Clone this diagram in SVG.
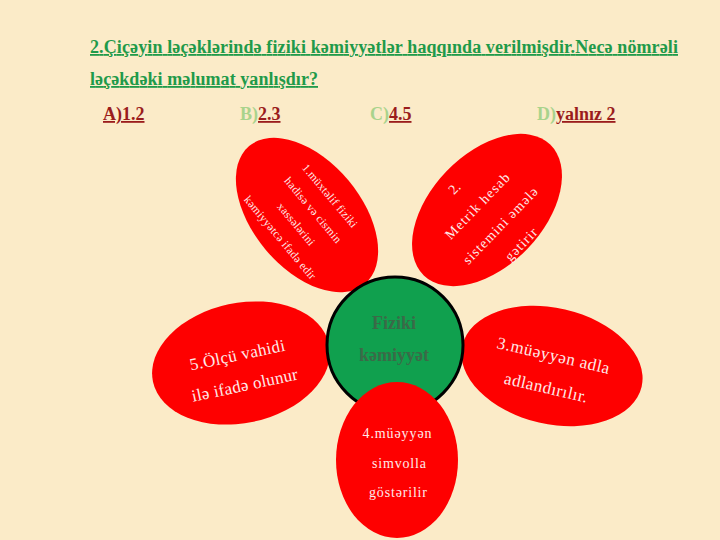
<svg xmlns="http://www.w3.org/2000/svg" width="720" height="540" viewBox="0 0 720 540">
<style>
.title{font-family:"Liberation Serif","Times New Roman",serif;font-weight:bold;font-size:18px;fill:#1f9a4a;text-decoration:underline}
.opt{font-family:"Liberation Serif","Times New Roman",serif;font-weight:bold;font-size:18px}
.lg{fill:#a9d38c}
.dr{fill:#9a1c1c;text-decoration:underline}
.petal{fill:#fe0000}
.pt{font-family:"Liberation Serif","Times New Roman",serif;fill:#fdeaea;text-anchor:middle}
.ct{font-family:"Liberation Serif","Times New Roman",serif;font-weight:bold;font-size:18px;fill:#3b6a48;text-anchor:middle}
</style>
<rect width="720" height="540" fill="#fbebc8"/>
<g id="question">
<text class="title" x="90" y="53" textLength="588" lengthAdjust="spacing">2.Çiçəyin ləçəklərində  fiziki kəmiyyətlər haqqında verilmişdir.Necə nömrəli</text>
<text class="title" x="90" y="85" textLength="228" lengthAdjust="spacing">ləçəkdəki məlumat yanlışdır?</text>
</g>
<g id="options">
<text class="opt" x="103" y="120"><tspan class="dr">A)1.2</tspan></text>
<text class="opt" x="240" y="120"><tspan class="lg">B)</tspan><tspan class="dr">2.3 </tspan></text>
<text class="opt" x="370" y="120"><tspan class="lg">C)</tspan><tspan class="dr">4.5</tspan></text>
<text class="opt" x="537" y="120"><tspan class="lg">D)</tspan><tspan class="dr">yalnız 2</tspan></text>
</g>
<g id="petal1" transform="translate(307,215) rotate(50)">
<ellipse class="petal" cx="0" cy="0" rx="90" ry="54"/>
<text class="pt" font-size="11.5" x="0" y="-26" textLength="79" lengthAdjust="spacing">1.müxtəlif fiziki</text>
<text class="pt" font-size="11.5" x="0" y="-4" textLength="82" lengthAdjust="spacing">hadisə və cismin</text>
<text class="pt" font-size="11.5" x="0" y="18" textLength="52" lengthAdjust="spacing">xassələrini</text>
<text class="pt" font-size="11.5" x="0" y="39" textLength="105" lengthAdjust="spacing">kəmiyyətcə ifadə edir</text>
</g>
<g id="petal2" transform="translate(487,210) rotate(-46)">
<ellipse class="petal" cx="0" cy="0" rx="91" ry="56"/>
<text class="pt" font-size="14" x="-7" y="-34">2.</text>
<text class="pt" font-size="14" x="-4" y="-5" textLength="86" lengthAdjust="spacing">Metrik hesab</text>
<text class="pt" font-size="14" x="-2" y="25" textLength="101" lengthAdjust="spacing">sistemini əmələ</text>
<text class="pt" font-size="14" x="-1" y="53" textLength="40" lengthAdjust="spacing">gətirir</text>
</g>
<g id="petal5" transform="translate(241,363) rotate(-12)">
<ellipse class="petal" cx="0" cy="0" rx="90" ry="60"/>
<text class="pt" font-size="17" x="-2" y="-3" textLength="97" lengthAdjust="spacing">5.Ölçü vahidi</text>
<text class="pt" font-size="17" x="-1" y="28" textLength="108" lengthAdjust="spacing">ilə ifadə olunur</text>
</g>
<g id="petal3" transform="translate(552,366) rotate(13)">
<ellipse class="petal" cx="0" cy="0" rx="92" ry="58"/>
<text class="pt" font-size="17" x="-1" y="-5" textLength="115" lengthAdjust="spacing">3.müəyyən adla</text>
<text class="pt" font-size="17" x="-1" y="28" textLength="85" lengthAdjust="spacing">adlandırılır.</text>
</g>
<g id="center">
<circle cx="395" cy="345" r="68" fill="#10a04e" stroke="#000" stroke-width="3"/>
<text class="ct" x="394" y="329">Fiziki</text>
<text class="ct" x="394" y="361">kəmiyyət</text>
</g>
<g id="petal4">
<ellipse class="petal" cx="397" cy="460" rx="61" ry="78"/>
<text class="pt" font-size="14" x="397" y="438" textLength="69" lengthAdjust="spacing">4.müəyyən</text>
<text class="pt" font-size="14" x="399" y="468" textLength="54" lengthAdjust="spacing">simvolla</text>
<text class="pt" font-size="14" x="398" y="497" textLength="58" lengthAdjust="spacing">göstərilir</text>
</g>
</svg>
